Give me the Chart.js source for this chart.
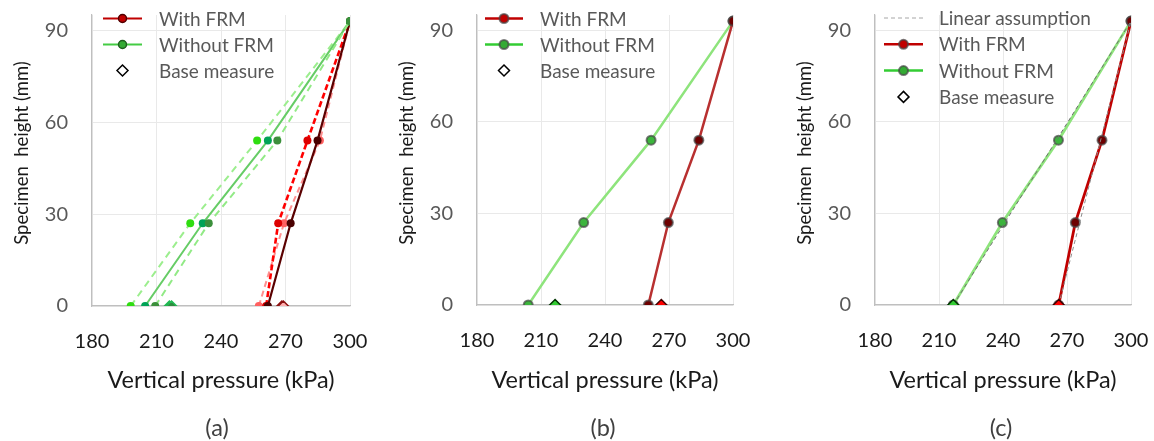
<!DOCTYPE html>
<html><head><meta charset="utf-8">
<script src="https://cdn.jsdelivr.net/npm/chart.js@4.4.1/dist/chart.umd.min.js"></script>
<style>
html,body{margin:0;padding:0;background:#fff;}
#wrap{position:relative;width:1154px;height:441px;overflow:hidden;font-family:Lato,sans-serif;}
canvas{position:absolute;top:0;}
.cap{position:absolute;top:412px;width:60px;text-align:center;font-size:23.5px;color:#404040;line-height:30px;font-family:Lato,sans-serif;}
</style></head><body>
<div id="wrap">
<canvas id="ca" width="385" height="441" style="left:0px;width:385px;height:441px"></canvas>
<canvas id="cb" width="398" height="441" style="left:385px;width:398px;height:441px"></canvas>
<canvas id="cc" width="371" height="441" style="left:783px;width:371px;height:441px"></canvas>
<div class="cap" style="left:187px">(a)</div>
<div class="cap" style="left:573px">(b)</div>
<div class="cap" style="left:971px">(c)</div>
</div>
<script>
// ---- data ----
const heights = [0, 27, 54, 93];
const baseHeight = [0];
const linearHeights = [0, 93];
const xTickStep = 30;
const yTickStep = 30;

// panel (a): repeated tests
const aWithRed   = [261.0, 266.6, 280.2, 300];
const aWithLight = [257.6, 269.3, 286.0, 300];
const aWithDark  = [261.8, 272.4, 284.9, 300];
const aWithoutLight = [198.0, 225.7, 256.8, 300];
const aWithoutTeal  = [204.7, 231.5, 261.8, 300];
const aWithoutDark  = [209.4, 234.3, 266.2, 300];
const aBaseGreen = [216.0, 217.0];
const aBaseRed   = [268.3, 269.0];

// panel (b)
const bWith    = [260.3, 269.7, 284.0, 300];
const bWithout = [204.0, 230.0, 261.6, 300];
const bBaseGreen = [216.6];
const bBaseRed   = [266.4];

// panel (c)
const cWith    = [266.1, 273.9, 286.4, 300];
const cWithout = [216.7, 239.7, 266.0, 300];
const cLinearWith    = [266.1, 300];
const cLinearWithout = [216.7, 300];
const cBaseGreen = [216.7];
const cBaseRed   = [266.1];

const legendLabels = ['With FRM', 'Without FRM', 'Base measure'];
const legendLabelsC = ['Linear assumption', 'With FRM', 'Without FRM', 'Base measure'];
const xTitle = 'Vertical pressure (kPa)';
const yTitle = 'Specimen  height (mm)';

// ---- helpers ----
function pts(xs, ys) { return xs.map((x, i) => ({x: x, y: ys[i]})); }
function basePts(xs) { return xs.map(x => ({x: x, y: baseHeight[0]})); }

const FONT = {family: 'Lato', size: 20};

const insideLegend = {
  id: 'insideLegend',
  afterDraw(chart, args, o) {
    if (!o || !o.items) return;
    const ctx = chart.ctx;
    ctx.save();
    // y axis title
    ctx.save();
    ctx.translate(o.yTitleX, o.yTitleY);
    ctx.rotate(-Math.PI / 2);
    ctx.font = '18.5px Lato';
    ctx.fillStyle = '#1a1a1a';
    ctx.textAlign = 'center';
    ctx.textBaseline = 'middle';
    ctx.fillText(yTitle, 0, 0);
    ctx.restore();

    ctx.font = o.size + 'px Lato';
    ctx.textBaseline = 'middle';
    o.items.forEach((it, i) => {
      const y = o.y + i * o.rowH;
      if (it.line) {
        ctx.strokeStyle = it.line; ctx.lineWidth = it.lw || 2;
        ctx.setLineDash(it.dash || []);
        ctx.beginPath(); ctx.moveTo(o.x0, y); ctx.lineTo(o.x1, y); ctx.stroke();
        ctx.setLineDash([]);
      }
      const mx = (o.x0 + o.x1) / 2;
      if (it.marker === 'circle') {
        ctx.beginPath(); ctx.arc(mx, y, it.r || 4.5, 0, Math.PI * 2);
        ctx.fillStyle = it.fill; ctx.fill();
        ctx.lineWidth = it.bw || 1.5; ctx.strokeStyle = it.border; ctx.stroke();
      } else if (it.marker === 'diamond') {
        const r = it.r || 5.5;
        ctx.beginPath(); ctx.moveTo(mx, y - r); ctx.lineTo(mx + r, y); ctx.lineTo(mx, y + r); ctx.lineTo(mx - r, y); ctx.closePath();
        ctx.fillStyle = it.fill; ctx.fill();
        ctx.lineWidth = 1.5; ctx.strokeStyle = it.border; ctx.stroke();
      }
      ctx.fillStyle = o.color;
      ctx.fillText(it.label, o.tx, y + 1);
    });
    ctx.restore();
  }
};

function makeOptions(rightPad, xHeight, legend) {
  const gridCol = '#e9e9e9';
  return {
    responsive: false,
    animation: false,
    devicePixelRatio: 1,
    layout: {padding: {top: 15, right: rightPad, left: 0, bottom: 0}},
    plugins: {legend: {display: false}, tooltip: {enabled: false}, insideLegend: legend},
    scales: {
      x: {
        type: 'linear', min: 180, max: 300,
        ticks: {stepSize: xTickStep, color: '#1a1a1a', font: FONT, padding: 3},
        grid: {color: gridCol, drawTicks: true, tickLength: 21, tickColor: 'rgba(0,0,0,0)', lineWidth: 1},
        border: {color: '#bfbfbf', width: 1.2},
        title: {display: true, text: xTitle, color: '#1a1a1a', font: {family: 'Lato', size: 23.5}, padding: {top: 0, bottom: 46}},
        afterFit: s => { s.height = xHeight; }
      },
      y: {
        type: 'linear', min: 0, max: 95,
        ticks: {stepSize: yTickStep, includeBounds: false, color: '#595959', font: FONT, padding: 3},
        grid: {color: gridCol, drawTicks: true, tickLength: 21, tickColor: 'rgba(0,0,0,0)', lineWidth: 1},
        border: {color: '#bfbfbf', width: 1.2},
        title: {display: false},
        afterFit: s => { s.width = 92; }
      }
    }
  };
}

function lineDs(data, color, width, dash, ptFill, ptR, ptBorder, ptBw) {
  return {data: data, showLine: true, borderColor: color, borderWidth: width, borderDash: dash || [],
    tension: 0, pointRadius: ptR, pointBackgroundColor: ptFill, pointBorderColor: ptBorder || ptFill,
    pointBorderWidth: ptBw || 0, pointStyle: 'circle'};
}
function diamondDs(data, fill, border, r) {
  return {data: data, showLine: false, pointStyle: 'rectRot', pointRadius: r || 5.5,
    pointBackgroundColor: fill, pointBorderColor: border, pointBorderWidth: 1.5};
}

const halo = 'rgba(70,70,70,0.7)';

// ---- panel (a) ----
new Chart(document.getElementById('ca'), {
  type: 'scatter',
  data: {datasets: [
    diamondDs(basePts(aBaseGreen), '#2e8b3e', '#22bb55', 5),
    diamondDs(basePts(aBaseRed), '#ffb0b0', '#8b1010', 5),
    lineDs(pts(aWithoutDark, heights), '#92ea86', 2, [7, 5], '#3b8f3b', 4),
    lineDs(pts(aWithoutTeal, heights), '#66cc66', 2, [], '#00a356', 4),
    lineDs(pts(aWithoutLight, heights), '#9cee8e', 2, [7, 5], '#2fdd10', 4),
    lineDs(pts(aWithDark, heights), '#5a0000', 2.2, [], '#4a0000', 4),
    lineDs(pts(aWithRed, heights), '#ff0000', 2.6, [6, 3], '#dd0000', 4),
    lineDs(pts(aWithLight, heights), '#ff9090', 2, [6, 4], '#ff6060', 4)
  ]},
  options: makeOptions(35, 135, {
    yTitleX: 22.5, yTitleY: 153,
    x0: 103, x1: 142, tx: 159, y: 18.5, rowH: 26, size: 19, color: '#595959',
    items: [
      {label: legendLabels[0], line: '#c00000', lw: 2, marker: 'circle', fill: '#c00000', border: '#500000', r: 4},
      {label: legendLabels[1], line: '#44cc44', lw: 2, marker: 'circle', fill: '#33aa33', border: '#1f5f1f', r: 4},
      {label: legendLabels[2], marker: 'diamond', fill: '#ffffff', border: '#000000', r: 5.5}
    ]
  }),
  plugins: [insideLegend]
});

// ---- panel (b) ----
new Chart(document.getElementById('cb'), {
  type: 'scatter',
  data: {datasets: [
    diamondDs(basePts(bBaseGreen), '#33cc33', '#003300', 5.5),
    diamondDs(basePts(bBaseRed), '#ff0000', '#400000', 5.5),
    lineDs(pts(bWith, heights), '#b83030', 2.5, [], '#6e0000', 4.5, halo, 2),
    lineDs(pts(bWithout, heights), '#8ee47c', 2.5, [], '#3cb43c', 4.5, halo, 2)
  ]},
  options: makeOptions(50, 136, {
    yTitleX: 22.5, yTitleY: 153,
    x0: 100, x1: 138, tx: 155, y: 18.5, rowH: 26, size: 19, color: '#595959',
    items: [
      {label: legendLabels[0], line: '#c00000', lw: 2.5, marker: 'circle', fill: '#c00000', border: halo, r: 4.5, bw: 2},
      {label: legendLabels[1], line: '#33cc33', lw: 2.5, marker: 'circle', fill: '#33aa33', border: halo, r: 4.5, bw: 2},
      {label: legendLabels[2], marker: 'diamond', fill: '#ffffff', border: '#000000', r: 5.5}
    ]
  }),
  plugins: [insideLegend]
});

// ---- panel (c) ----
new Chart(document.getElementById('cc'), {
  type: 'scatter',
  data: {datasets: [
    diamondDs(basePts(cBaseGreen), '#33cc33', '#003300', 5.5),
    diamondDs(basePts(cBaseRed), '#ff0000', '#400000', 5.5),
    lineDs(pts(cLinearWith, linearHeights), '#8c8c8c', 1, [4, 3], '#8c8c8c', 0),
    lineDs(pts(cLinearWithout, linearHeights), '#6f6f6f', 1, [4, 3], '#8c8c8c', 0),
    lineDs(pts(cWith, heights), '#c00000', 2.8, [], '#6e0000', 4.5, halo, 2),
    lineDs(pts(cWithout, heights), '#8ee47c', 2.8, [], '#3cb43c', 4.5, halo, 2)
  ]},
  options: makeOptions(23, 136, {
    yTitleX: 22.5, yTitleY: 153,
    x0: 101, x1: 140, tx: 156, y: 18, rowH: 26.3, size: 19, color: '#595959',
    items: [
      {label: legendLabelsC[0], line: '#a6a6a6', lw: 1, dash: [4, 3]},
      {label: legendLabelsC[1], line: '#c00000', lw: 2.5, marker: 'circle', fill: '#c00000', border: halo, r: 4.5, bw: 2},
      {label: legendLabelsC[2], line: '#33cc33', lw: 2.5, marker: 'circle', fill: '#33aa33', border: halo, r: 4.5, bw: 2},
      {label: legendLabelsC[3], marker: 'diamond', fill: '#ffffff', border: '#000000', r: 5.5}
    ]
  }),
  plugins: [insideLegend]
});
</script>
</body></html>
